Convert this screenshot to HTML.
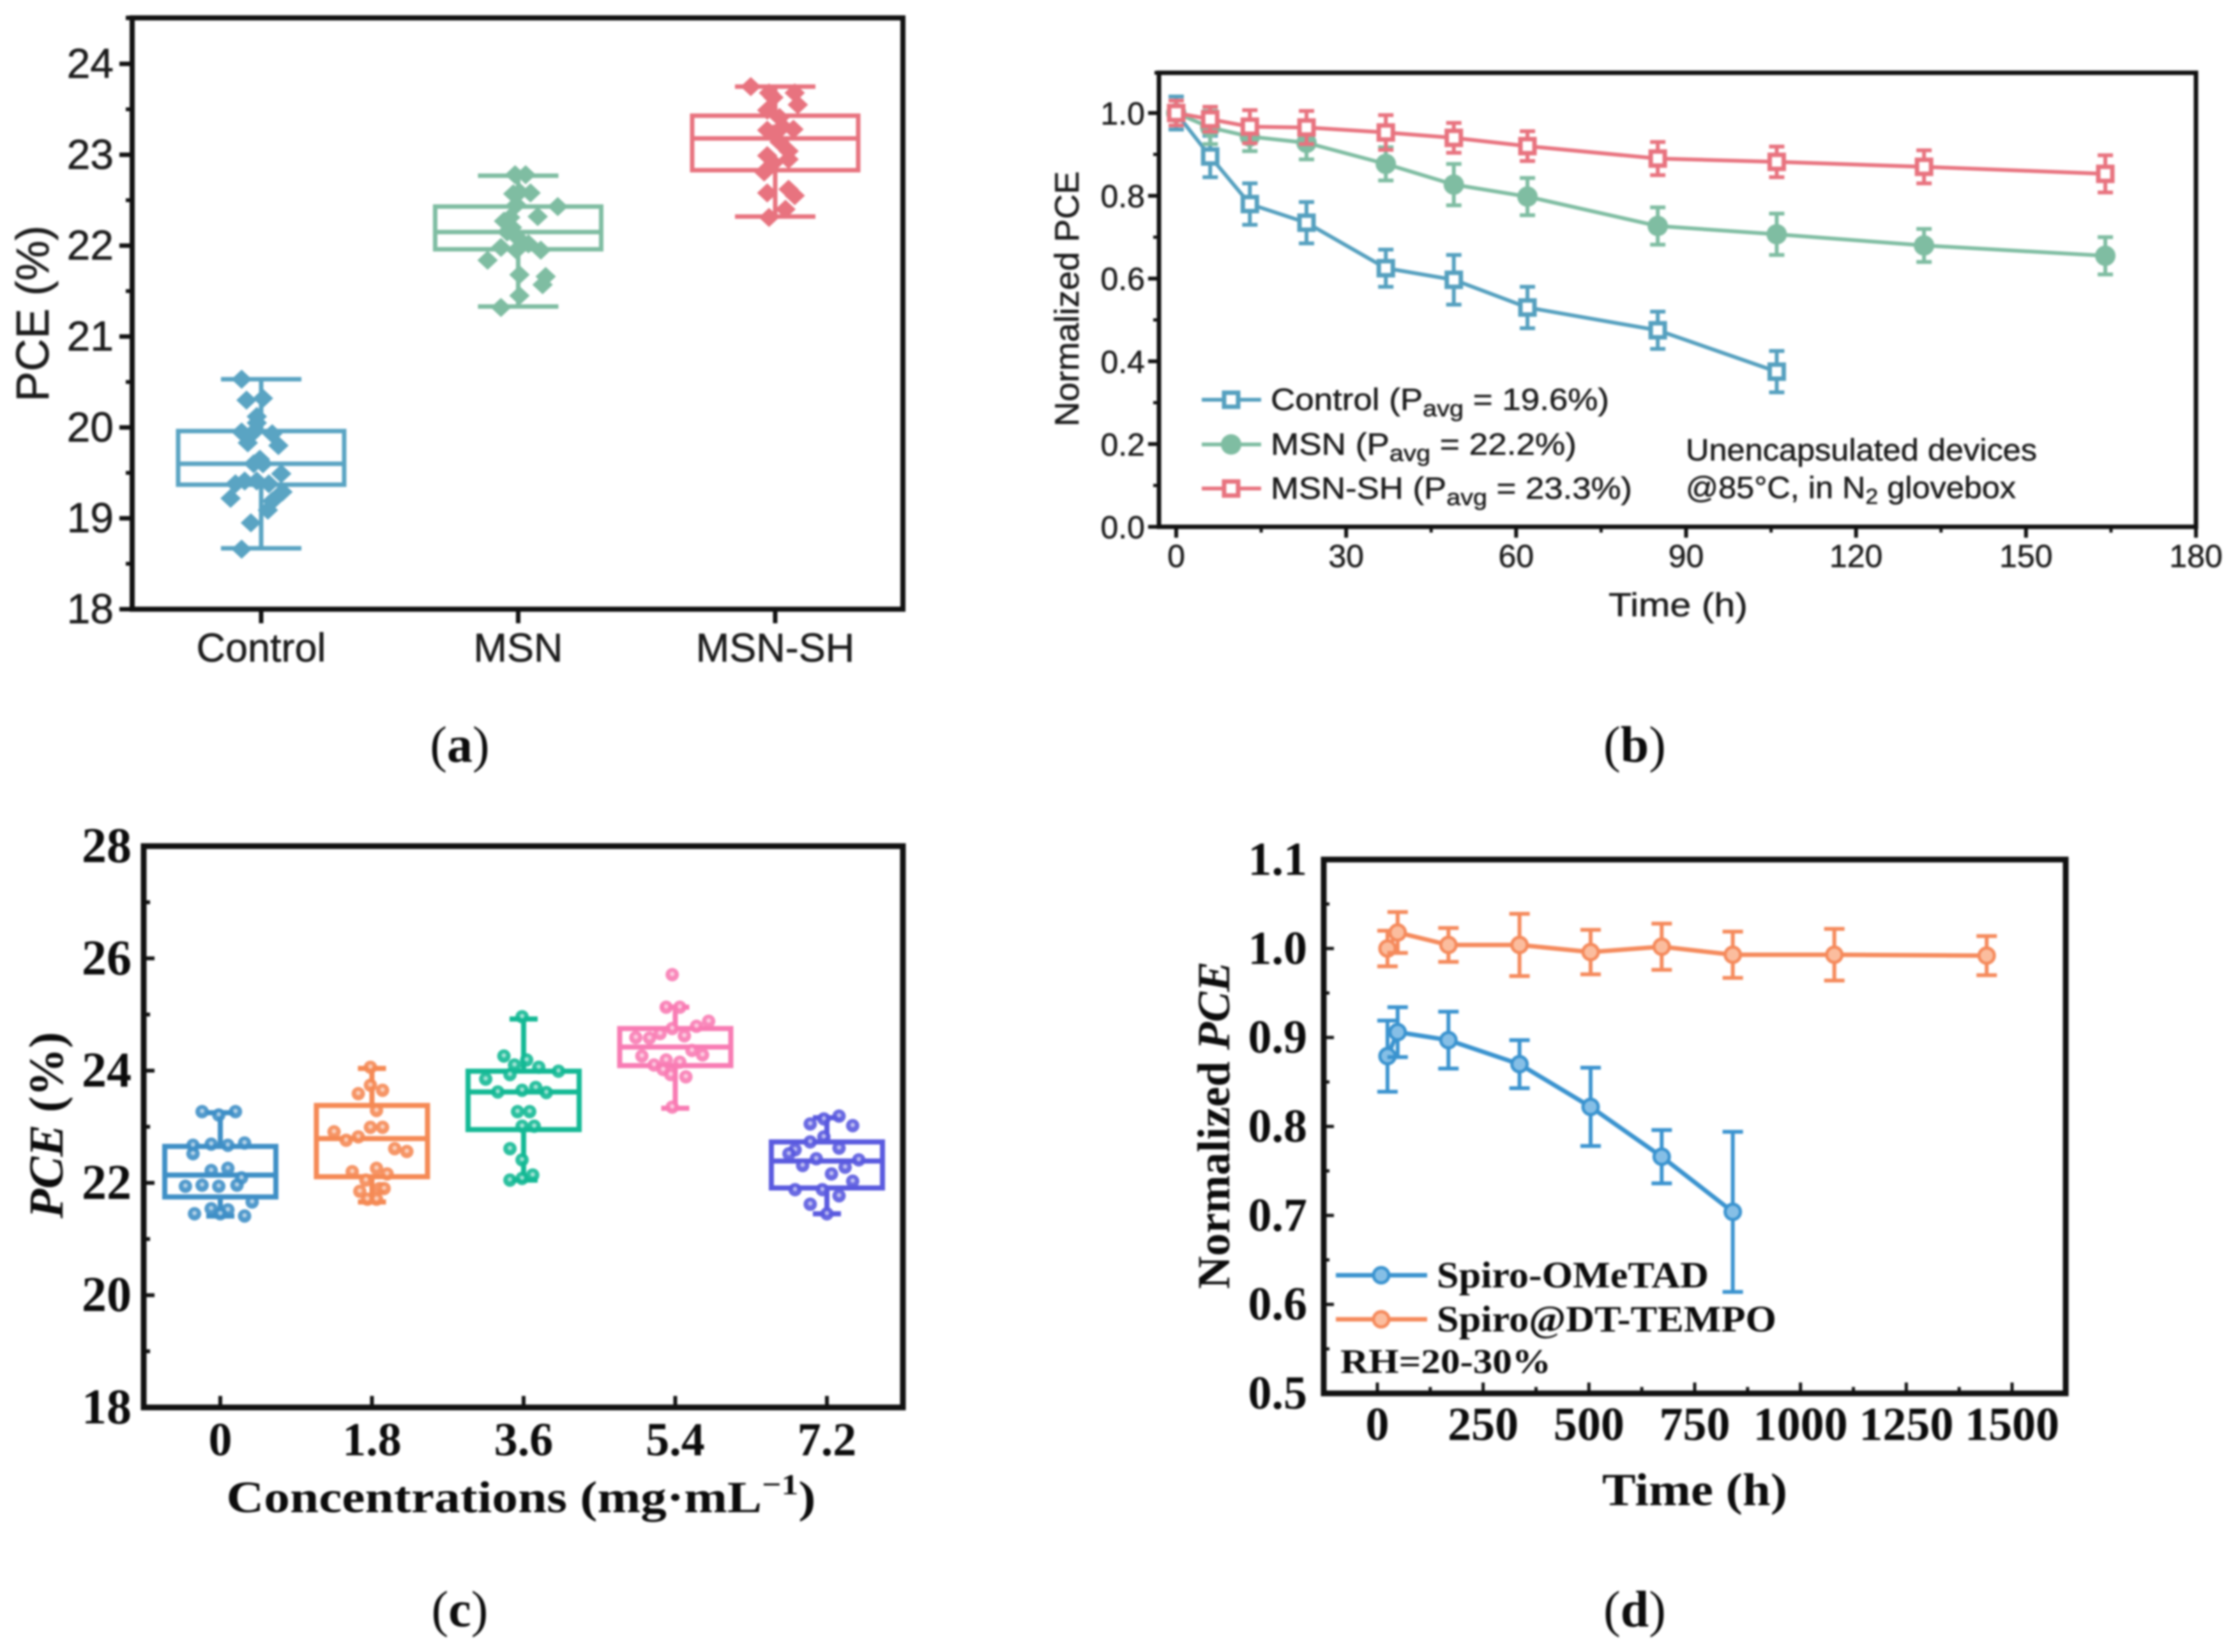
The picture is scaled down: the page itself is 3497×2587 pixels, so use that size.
<!DOCTYPE html>
<html lang="en">
<head>
<meta charset="utf-8">
<title>PCE statistics and stability panels</title>
<style>
html,body{margin:0;padding:0;background:#fff;width:3497px;height:2587px;overflow:hidden}
svg{display:block;filter:blur(1.7px)}
.sans{font-family:"Liberation Sans",sans-serif;fill:#1c1c1c;stroke:#1c1c1c;stroke-width:.6px}
.serif{font-family:"Liberation Serif",serif;fill:#0c0c0c}
.b{font-weight:700}
</style>
</head>
<body>
<svg id="figure" xmlns="http://www.w3.org/2000/svg" width="3497" height="2587" viewBox="0 0 3497 2587">
  <rect width="3497" height="2587" fill="#fff"/>

  <g id="panelA">
    <text class="sans" font-size="72" text-anchor="middle" textLength="276" lengthAdjust="spacingAndGlyphs" transform="translate(76,491) rotate(-90)">PCE (%)</text>
  </g>

  <g id="panelB">
    <text class="sans" font-size="53" text-anchor="middle" textLength="400" lengthAdjust="spacingAndGlyphs" transform="translate(1689,468) rotate(-90)">Normalized PCE</text>
    <text class="sans" font-size="52" text-anchor="middle" textLength="218" lengthAdjust="spacingAndGlyphs" x="2628" y="965">Time (h)</text>
    <g>
      <line x1="1882" x2="1975" y1="626" y2="626" stroke="#55a0bf" stroke-width="6"/>
      <rect x="1917" y="615" width="22" height="22" fill="#fff" stroke="#55a0bf" stroke-width="7"/>
      <text class="sans" font-size="48" x="1990" y="642" textLength="530" lengthAdjust="spacingAndGlyphs">Control (P<tspan font-size="36" dy="10">avg</tspan><tspan dy="-10"> = 19.6%)</tspan></text>
      <line x1="1882" x2="1975" y1="696" y2="696" stroke="#7fbda2" stroke-width="6"/>
      <circle cx="1928" cy="696" r="16" fill="#7fbda2"/>
      <text class="sans" font-size="48" x="1990" y="712" textLength="479" lengthAdjust="spacingAndGlyphs">MSN (P<tspan font-size="36" dy="10">avg</tspan><tspan dy="-10"> = 22.2%)</tspan></text>
      <line x1="1882" x2="1975" y1="765" y2="765" stroke="#e8737f" stroke-width="6"/>
      <rect x="1917" y="754" width="22" height="22" fill="#fff" stroke="#e8737f" stroke-width="7"/>
      <text class="sans" font-size="48" x="1990" y="781" textLength="566" lengthAdjust="spacingAndGlyphs">MSN-SH (P<tspan font-size="36" dy="10">avg</tspan><tspan dy="-10"> = 23.3%)</tspan></text>
    </g>
    <text class="sans" font-size="48" x="2640" y="721" textLength="550" lengthAdjust="spacingAndGlyphs">Unencapsulated devices</text>
    <text class="sans" font-size="48" x="2640" y="780" textLength="517" lengthAdjust="spacingAndGlyphs">@85°C, in N<tspan font-size="34" dy="9">2</tspan><tspan dy="-9"> glovebox</tspan></text>
  </g>

  <g id="panelC">
    <text class="serif b" font-size="76" text-anchor="middle" textLength="292" lengthAdjust="spacingAndGlyphs" transform="translate(98,1762) rotate(-90)"><tspan font-style="italic">PCE</tspan> (%)</text>
    <text class="serif b" font-size="70" text-anchor="middle" textLength="923" lengthAdjust="spacingAndGlyphs" x="816" y="2368">Concentrations (mg·mL<tspan font-size="46" dy="-28">−1</tspan><tspan dy="28">)</tspan></text>
  </g>

  <g id="panelD">
    <text class="serif b" font-size="72" text-anchor="middle" textLength="513" lengthAdjust="spacingAndGlyphs" transform="translate(1925,1762) rotate(-90)">Normalized <tspan font-style="italic">PCE</tspan></text>
    <text class="serif b" font-size="72" text-anchor="middle" textLength="290" lengthAdjust="spacingAndGlyphs" x="2654" y="2357">Time (h)</text>
    <g>
      <line x1="2092" x2="2235" y1="1997" y2="1997" stroke="#3a93cf" stroke-width="7"/>
      <circle cx="2163" cy="1997" r="12" fill="#86bfe6" stroke="#3a93cf" stroke-width="5"/>
      <text class="serif b" font-size="58" x="2250" y="2016" textLength="426" lengthAdjust="spacingAndGlyphs">Spiro-OMeTAD</text>
      <line x1="2092" x2="2235" y1="2066" y2="2066" stroke="#f58a5c" stroke-width="7"/>
      <circle cx="2163" cy="2066" r="12" fill="#fbbd9e" stroke="#f58a5c" stroke-width="5"/>
      <text class="serif b" font-size="58" x="2250" y="2085" textLength="532" lengthAdjust="spacingAndGlyphs">Spiro@DT-TEMPO</text>
    </g>
    <text class="serif" font-weight="700" font-size="54" x="2099" y="2150" textLength="330" lengthAdjust="spacingAndGlyphs">RH=20-30%</text>
  </g>

  <text class="serif" font-size="80" text-anchor="middle" x="720" y="1193">(<tspan font-weight="700">a</tspan>)</text>
  <text class="serif" font-size="80" text-anchor="middle" x="2560" y="1193">(<tspan font-weight="700">b</tspan>)</text>
  <text class="serif" font-size="80" text-anchor="middle" x="720" y="2547">(<tspan font-weight="700">c</tspan>)</text>
  <text class="serif" font-size="80" text-anchor="middle" x="2560" y="2547">(<tspan font-weight="700">d</tspan>)</text>
</svg>

<script>
/* ---------- Panel (a) data ---------- */
const aCategories = ['Control', 'MSN', 'MSN-SH'];
const aYTicks = [18, 19, 20, 21, 22, 23, 24];
const aYMinorTicks = [18.5, 19.5, 20.5, 21.5, 22.5, 23.5];
const aWhiskerLow = [18.67, 21.33, 22.32];
const aQ1 = [19.37, 21.96, 22.83];
const aMedian = [19.6, 22.15, 23.18];
const aQ3 = [19.96, 22.43, 23.43];
const aWhiskerHigh = [20.53, 22.77, 23.75];
const aPointsControl = [[-.076,20.53],[-.057,20.30],[.007,20.32],[-.017,20.12],[-.017,20.05],[-.076,19.95],[-.029,19.95],[.043,19.93],[-.052,19.83],[.067,19.80],[-.005,19.65],[-.029,19.60],[.007,19.60],[.078,19.49],[-.1,19.38],[-.064,19.41],[-.017,19.41],[.03,19.38],[.083,19.29],[-.119,19.22],[.043,19.19],[.026,19.09],[-.04,18.95],[-.076,18.66]];
const aPointsMsn = [[-.012,22.78],[.029,22.78],[.005,22.59],[.048,22.58],[-.019,22.57],[-.007,22.45],[.154,22.43],[.076,22.32],[-.031,22.31],[-.055,22.27],[-.024,22.2],[-.043,22.15],[-.007,22.1],[.04,22.02],[-.067,21.98],[-.007,21.95],[.088,21.95],[-.119,21.84],[.005,21.68],[.107,21.66],[.095,21.57],[.005,21.45],[-.067,21.32]];
const aPointsMsnSh = [[-.095,23.75],[-.024,23.68],[.076,23.68],[-.007,23.63],[.088,23.55],[-.031,23.49],[.017,23.41],[.029,23.31],[.071,23.28],[-.031,23.27],[-.007,23.23],[.017,23.14],[.052,23.04],[-.031,22.99],[.052,22.95],[-.007,22.91],[-.043,22.81],[-.031,22.58],[.052,22.62],[.076,22.55],[.04,22.40],[-.024,22.31]];
const aPointGroups = [aPointsControl, aPointsMsn, aPointsMsnSh];
const aColors = ['#5aa4c3', '#7fbda2', '#e8737f'];

/* ---------- Panel (b) data ---------- */
const bTime = [0, 6, 13, 23, 37, 49, 62, 85, 106, 132, 164];
const bXTicks = [0, 30, 60, 90, 120, 150, 180];
const bXMinorTicks = [15, 45, 75, 105, 135, 165];
const bYTicks = ['0.0', '0.2', '0.4', '0.6', '0.8', '1.0'];
const bYMinorTicks = [0.1, 0.3, 0.5, 0.7, 0.9];
const bControl = [1.0, .895, .78, .735, .625, .597, .53, .475, .375];
const bControlErr = [.04, .05, .05, .05, .045, .06, .05, .045, .05];
const bMsn = [1.0, .965, .943, .928, .877, .827, .798, .727, .707, .68, .655];
const bMsnErr = [.03, .04, .035, .04, .04, .05, .045, .045, .05, .04, .045];
const bMsnSh = [1.0, .985, .967, .965, .953, .94, .92, .89, .882, .87, .853];
const bMsnShErr = [.03, .03, .04, .04, .042, .036, .036, .04, .037, .04, .045];

/* ---------- Panel (c) data ---------- */
const cCategories = ['0', '1.8', '3.6', '5.4', '7.2'];
const cYTicks = [18, 20, 22, 24, 26, 28];
const cYMinorTicks = [19, 21, 23, 25, 27];
const cWhiskerLow = [21.41, 21.66, 22.05, 23.33, 21.45];
const cQ1 = [21.75, 22.11, 22.95, 24.09, 21.91];
const cMedian = [22.14, 22.79, 23.62, 24.42, 22.39];
const cQ3 = [22.65, 23.38, 23.99, 24.75, 22.73];
const cWhiskerHigh = [23.25, 24.04, 24.92, 25.13, 23.16];
const cPoints0 = [[-.12,23.27],[.10,23.27],[-.01,23.21],[-.18,22.67],[-.06,22.69],[.05,22.67],[.16,22.71],[-.18,22.52],[-.06,22.22],[.05,22.26],[.14,22.09],[-.23,21.94],[-.12,21.96],[-.01,21.94],[.11,21.96],[.21,21.66],[-.06,21.54],[.05,21.52],[-.17,21.45],[.16,21.41],[0,21.45]];
const cPoints18 = [[-.01,24.06],[-.01,23.74],[-.09,23.59],[.07,23.65],[.03,23.29],[-.01,22.99],[.07,22.99],[-.25,22.91],[-.09,22.82],[-.17,22.76],[.15,22.61],[.23,22.56],[.03,22.26],[-.13,22.2],[.10,22.16],[-.04,22.05],[.05,21.9],[-.08,21.85],[.08,21.9],[-.03,21.71],[.03,21.71]];
const cPoints36 = [[-.01,24.96],[-.13,24.26],[.02,24.19],[-.06,24.10],[.10,24.06],[.23,23.99],[-.09,23.93],[-.25,23.85],[-.17,23.62],[-.01,23.65],[.08,23.70],[.15,23.61],[-.04,23.27],[.04,23.27],[-.01,23.01],[.07,23.01],[-.09,22.61],[-.01,22.41],[-.09,22.05],[-.01,22.08],[.06,22.14]];
const cPoints54 = [[-.02,25.71],[-.06,25.13],[.03,25.13],[.22,24.88],[.14,24.79],[-.02,24.75],[-.10,24.66],[-.26,24.59],[-.17,24.58],[.06,24.62],[.11,24.36],[-.22,24.26],[.18,24.28],[-.06,24.19],[-.14,24.10],[.03,24.15],[-.08,24.02],[-.03,23.93],[.07,23.89],[-.02,23.35]];
const cPoints72 = [[.08,23.19],[-.02,23.14],[-.11,23.05],[.17,23.02],[-.02,22.82],[-.11,22.73],[.08,22.62],[-.21,22.59],[-.25,22.52],[-.07,22.43],[.21,22.41],[-.16,22.31],[.12,22.28],[.03,22.16],[.17,22.03],[-.21,21.88],[-.03,21.88],[.08,21.77],[-.11,21.62],[0,21.45]];
const cPointGroups = [cPoints0, cPoints18, cPoints36, cPoints54, cPoints72];
const cColors = ['#3f8fc6', '#f58a55', '#14b995', '#f87cb4', '#5a5adf'];

/* ---------- Panel (d) data ---------- */
const dTime = [24, 48, 168, 336, 504, 672, 840, 1080, 1440];
const dXTicks = [0, 250, 500, 750, 1000, 1250, 1500];
const dXMinorTicks = [125, 375, 625, 875, 1125, 1375];
const dYTicks = ['0.5', '0.6', '0.7', '0.8', '0.9', '1.0', '1.1'];
const dYMinorTicks = [.55, .65, .75, .85, .95, 1.05];
const dSpiro = [.879, .906, .897, .87, .822, .766, .704];
const dSpiroErr = [.04, .028, .032, .027, .044, .03, .09];
const dTempo = [1.0, 1.018, 1.004, 1.004, .996, 1.002, .993, .993, .992];
const dTempoErr = [.02, .023, .019, .035, .025, .026, .026, .029, .022];

/* ---------- Helpers ---------- */
const NS = 'http://www.w3.org/2000/svg';
function linear(d0, d1, r0, r1) {
  return function (v) { return r0 + (v - d0) * (r1 - r0) / (d1 - d0); };
}
function add(parent, tag, attrs, text) {
  const el = document.createElementNS(NS, tag);
  for (const k in attrs) el.setAttribute(k, attrs[k]);
  if (text !== undefined) el.textContent = text;
  parent.appendChild(el);
  return el;
}
function drawFrame(g, left, top, right, bottom, width) {
  const el = add(g, 'rect', {x: left, y: top, width: right - left, height: bottom - top, fill: 'none', stroke: '#111', 'stroke-width': width});
  
  
}
function drawTick(g, x1, y1, x2, y2, width) {
  const el = add(g, 'line', {x1: x1, y1: y1, x2: x2, y2: y2, stroke: '#111', 'stroke-width': width});
  
  
}
function drawLabel(g, x, y, label, cls, size, anchor) {
  const el = add(g, 'text', {x: x, y: y, 'class': cls, 'font-size': size, 'text-anchor': anchor}, label);
  
  
}
function drawBox(g, x, halfBox, halfCap, lo, q1, med, q3, hi, color, width) {
  const box = add(g, 'g', {stroke: color, 'stroke-width': width, fill: 'none'});
  
  
  add(box, 'rect', {x: x - halfBox, y: q3, width: halfBox * 2, height: q1 - q3});
  add(box, 'line', {x1: x - halfBox, x2: x + halfBox, y1: med, y2: med});
  add(box, 'line', {x1: x, x2: x, y1: q3, y2: hi});
  add(box, 'line', {x1: x, x2: x, y1: q1, y2: lo});
  add(box, 'line', {x1: x - halfCap, x2: x + halfCap, y1: hi, y2: hi});
  add(box, 'line', {x1: x - halfCap, x2: x + halfCap, y1: lo, y2: lo});
}
function drawLine(g, xs, ys, color, width, name) {
  let pts = '';
  for (let i = 0; i < ys.length; i++) pts += xs[i] + ',' + ys[i] + ' ';
  const el = add(g, 'polyline', {points: pts, fill: 'none', stroke: color, 'stroke-width': width});
  
  
}
function drawErrorBar(g, x, yLow, yHigh, cap, color, width) {
  const el = add(g, 'path', {d: 'M' + x + ' ' + yLow + 'V' + yHigh + 'M' + (x - cap) + ' ' + yLow + 'H' + (x + cap) + 'M' + (x - cap) + ' ' + yHigh + 'H' + (x + cap), fill: 'none', stroke: color, 'stroke-width': width});
  
  
}

/* ---------- Panel (a) ---------- */
(function () {
  const g = document.getElementById('panelA');
  const x = linear(0, 2, 409, 1214);
  const y = linear(18, 24, 954, 100);
  aCategories.forEach(function (c, i) {
    drawBox(g, x(i), 130, 63, y(aWhiskerLow[i]), y(aQ1[i]), y(aMedian[i]), y(aQ3[i]), y(aWhiskerHigh[i]), aColors[i], 7);
    aPointGroups[i].forEach(function (p) {
      const px = x(i + p[0]);
      const py = y(p[1]);
      const el = add(g, 'path', {d: 'M' + (px - 16) + ' ' + py + 'L' + px + ' ' + (py - 15) + 'L' + (px + 16) + ' ' + py + 'L' + px + ' ' + (py + 15) + 'Z', fill: aColors[i]});
      
      
    });
  });
  drawFrame(g, 207, 28, 1414, 954, 8);
  drawTick(g, 197, 28, 207, 28, 7);
  aYTicks.forEach(function (t) {
    drawTick(g, 187, y(t), 207, y(t), 7);
    drawLabel(g, 178, y(t) + 22, String(t), 'sans', 66, 'end');
  });
  aYMinorTicks.forEach(function (t) {
    drawTick(g, 197, y(t), 207, y(t), 6);
  });
  aCategories.forEach(function (c, i) {
    drawTick(g, x(i), 954, x(i), 976, 7);
    drawLabel(g, x(i), 1036, c, 'sans', 63, 'middle');
  });
})();

/* ---------- Panel (b) ---------- */
(function () {
  const g = document.getElementById('panelB');
  const x = linear(0, 180, 1842, 3439);
  const y = linear(0, 1, 825, 177);
  function series(values, errs, color, name, filled) {
    const xs = values.map(function (v, i) { return x(bTime[i]); });
    const ys = values.map(function (v) { return y(v); });
    drawLine(g, xs, ys, color, 6, name + '-line');
    values.forEach(function (v, i) {
      drawErrorBar(g, xs[i], y(v - errs[i]), y(v + errs[i]), 12, color, 6);
      if (filled) {
        const el = add(g, 'circle', {cx: xs[i], cy: ys[i], r: 16, fill: color});
        
        
      } else {
        const el = add(g, 'rect', {x: xs[i] - 11, y: ys[i] - 11, width: 22, height: 22, fill: '#fff', stroke: color, 'stroke-width': 7});
        
        
      }
    });
  }
  series(bControl, bControlErr, '#55a0bf', 'control', false);
  series(bMsn, bMsnErr, '#7fbda2', 'msn', true);
  series(bMsnSh, bMsnShErr, '#e8737f', 'msn-sh', false);
  drawFrame(g, 1815, 114, 3439, 825, 7);
  drawTick(g, 1808, 114, 1815, 114, 6);
  bYTicks.forEach(function (t) {
    drawTick(g, 1798, y(+t), 1815, y(+t), 6);
    drawLabel(g, 1793, y(+t) + 18, t, 'sans', 50, 'end');
  });
  bYMinorTicks.forEach(function (t) {
    drawTick(g, 1806, y(t), 1815, y(t), 5);
  });
  bXTicks.forEach(function (t) {
    drawTick(g, x(t), 825, x(t), 842, 6);
    drawLabel(g, x(t), 888, String(t), 'sans', 50, 'middle');
  });
  bXMinorTicks.forEach(function (t) {
    drawTick(g, x(t), 825, x(t), 834, 5);
  });
})();

/* ---------- Panel (c) ---------- */
(function () {
  const g = document.getElementById('panelC');
  const x = linear(0, 4, 345, 1295);
  const y = linear(18, 28, 2204, 1325);
  cCategories.forEach(function (c, i) {
    drawBox(g, x(i), 87, 22, y(cWhiskerLow[i]), y(cQ1[i]), y(cMedian[i]), y(cQ3[i]), y(cWhiskerHigh[i]), cColors[i], 8);
    cPointGroups[i].forEach(function (p) {
      const px = x(i + p[0]);
      const py = y(p[1]);
      const el = add(g, 'circle', {cx: px, cy: py, r: 10.5, fill: cColors[i], 'fill-opacity': .9});
      
      
      const hl = add(g, 'circle', {cx: px, cy: py - 1, r: 3.5, fill: '#fff', 'fill-opacity': .55});
      
      
    });
  });
  drawFrame(g, 225, 1325, 1414, 2204, 9);
  cYTicks.forEach(function (t) {
    drawTick(g, 225, y(t), 242, y(t), 6);
    drawLabel(g, 206, y(t) + 25, String(t), 'serif b', 78, 'end');
  });
  cYMinorTicks.forEach(function (t) {
    drawTick(g, 225, y(t), 235, y(t), 6);
  });
  cCategories.forEach(function (c, i) {
    drawTick(g, x(i), 2204, x(i), 2186, 6);
    drawLabel(g, x(i), 2279, c, 'serif b', 74, 'middle');
  });
})();

/* ---------- Panel (d) ---------- */
(function () {
  const g = document.getElementById('panelD');
  const x = linear(0, 1500, 2157, 3151);
  const y = linear(0.5, 1.1, 2182, 1346);
  function series(values, errs, color, fill, name) {
    const xs = values.map(function (v, i) { return x(dTime[i]); });
    const ys = values.map(function (v) { return y(v); });
    drawLine(g, xs, ys, color, 7, name + '-line');
    values.forEach(function (v, i) {
      drawErrorBar(g, xs[i], y(v - errs[i]), y(v + errs[i]), 16, color, 6);
      const el = add(g, 'circle', {cx: xs[i], cy: ys[i], r: 12, fill: fill, stroke: color, 'stroke-width': 5});
      
      
    });
  }
  series(dSpiro, dSpiroErr, '#3a93cf', '#86bfe6', 'spiro-ometad');
  series(dTempo, dTempoErr, '#f58a5c', '#fbbd9e', 'spiro-dt-tempo');
  drawFrame(g, 2073, 1346, 3235, 2182, 9);
  dYTicks.forEach(function (t) {
    drawTick(g, 2073, y(+t), 2089, y(+t), 5);
    drawLabel(g, 2047, y(+t) + 24, t, 'serif b', 74, 'end');
  });
  dYMinorTicks.forEach(function (t) {
    drawTick(g, 2073, y(t), 2082, y(t), 5);
  });
  dXTicks.forEach(function (t) {
    drawTick(g, x(t), 2182, x(t), 2165, 5);
    drawLabel(g, x(t), 2255, String(t), 'serif b', 74, 'middle');
  });
  dXMinorTicks.forEach(function (t) {
    drawTick(g, x(t), 2182, x(t), 2172, 5);
  });
})();
</script>
</body>
</html>
